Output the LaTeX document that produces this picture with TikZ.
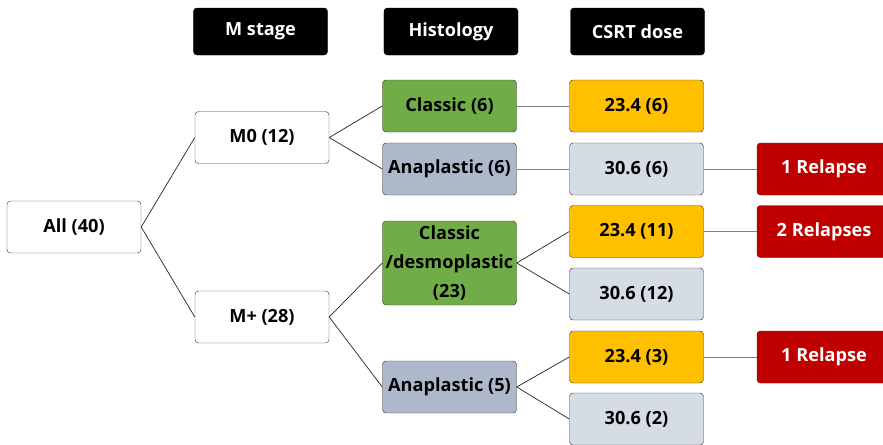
\documentclass[tikz,border=0pt]{standalone}
\usepackage{fontspec}
\setmainfont{Open Sans}
\usetikzlibrary{positioning}
\definecolor{histgreen}{HTML}{70AD47}
\definecolor{histgrey}{HTML}{ADB9CA}
\definecolor{doseorange}{HTML}{FFC000}
\definecolor{dosegrey}{HTML}{D6DCE4}
\definecolor{relapsered}{HTML}{C00000}

\begin{document}
\begin{tikzpicture}[x=0.03cm, y=-0.03cm,
    box/.style={rectangle, rounded corners=3pt, draw=black!75, thin, fill=white,
        minimum width=4.02cm, minimum height=1.56cm, inner sep=1pt, align=center,
        font=\fontsize{15.5}{18}\selectfont\bfseries},
    headbox/.style={box, fill=black, draw=black, text=white, minimum height=1.41cm},
    greenbox/.style={box, fill=histgreen},
    greybox/.style={box, fill=histgrey},
    orangebox/.style={box, fill=doseorange},
    dosebox/.style={box, fill=dosegrey},
    redbox/.style={box, fill=relapsered, draw=relapsered!70!black, text=white},
    branch/.style={draw=black!85, semithick},
    link/.style={draw=black!50, thick}
    ]
        \useasboundingbox (0,0) rectangle (883,445);

        %Headers
        \node[headbox] (hstage) at (260.5,31.5) {M stage};
        \node[headbox] (hhisto) at (451,31.5)   {Histology};
        \node[headbox] (hdose)  at (637.5,31.5) {CSRT dose};

        %Nodes
        \node[box] (all) at (74,227)    {All (40)};
        \node[box] (m0)  at (262,137.5) {M0 (12)};
        \node[box] (mp)  at (262,317)   {M+ (28)};

        \node[greenbox] (cls6) at (449.5,106) {Classic (6)};
        \node[greybox]  (ana6) at (449.5,169) {Anaplastic (6)};
        \node[greenbox, minimum height=2.52cm, font=\fontsize{15.5}{24.5}\selectfont\bfseries]
            (clsd) at (449.5,263) {Classic\\/desmoplastic\\(23)};
        \node[greybox]  (ana5) at (449.5,387) {Anaplastic (5)};

        \node[orangebox] (d1) at (636.5,106)   {23.4 (6)};
        \node[dosebox]   (d2) at (636.5,169)   {30.6 (6)};
        \node[orangebox] (d3) at (636.5,231.5) {23.4 (11)};
        \node[dosebox]   (d4) at (636.5,294)   {30.6 (12)};
        \node[orangebox] (d5) at (636.5,357)   {23.4 (3)};
        \node[dosebox]   (d6) at (636.5,419)   {30.6 (2)};

        \node[redbox] (r1) at (824,169)   {1 Relapse};
        \node[redbox] (r2) at (824,231.5) {2 Relapses};
        \node[redbox] (r3) at (824,357)   {1 Relapse};

        %Lines
        \draw[branch] (all.east) -- (m0.west);
        \draw[branch] (all.east) -- (mp.west);
        \draw[branch] (m0.east) -- (cls6.west);
        \draw[branch] (m0.east) -- (ana6.west);
        \draw[branch] (mp.east) -- (clsd.west);
        \draw[branch] (mp.east) -- (ana5.west);
        \draw[branch] (clsd.east) -- (d3.west);
        \draw[branch] (clsd.east) -- (d4.west);
        \draw[branch] (ana5.east) -- (d5.west);
        \draw[branch] (ana5.east) -- (d6.west);

        \draw[link] (cls6.east) -- (d1.west);
        \draw[link] (ana6.east) -- (d2.west);
        \draw[link] (d2.east) -- (r1.west);
        \draw[link] (d3.east) -- (r2.west);
        \draw[link] (d5.east) -- (r3.west);
    \end{tikzpicture}
\end{document}
